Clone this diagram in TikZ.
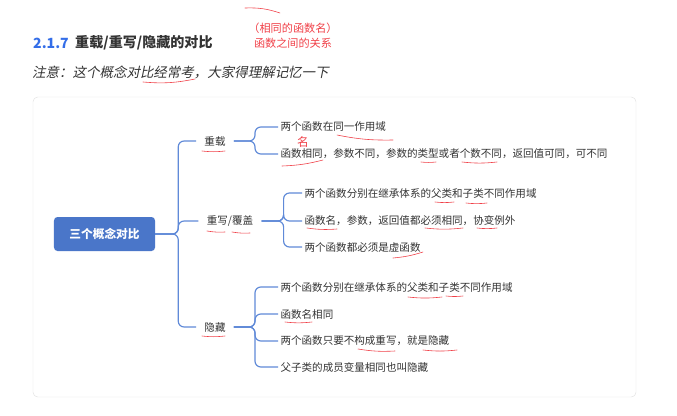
\documentclass[tikz,border=0pt]{standalone}
\usepackage{fontspec}
\setmainfont{Noto Sans CJK SC}
\newfontfamily\noteslant[FakeSlant=0.2]{Noto Sans CJK SC}
\definecolor{rootblue}{RGB}{74,118,201}
\definecolor{lineblue}{RGB}{96,138,216}
\definecolor{headblue}{RGB}{52,110,232}
\definecolor{txtgray}{RGB}{51,51,51}
\definecolor{markred}{RGB}{240,64,72}
\definecolor{panelgray}{RGB}{225,225,225}

\begin{document}
\begin{tikzpicture}[
        x=0.03cm, y=-0.03cm,
        every node/.style={font=\fontsize{9}{11}\selectfont, text=txtgray},
        root/.style={rectangle, rounded corners=3pt, fill=rootblue, text=white, minimum width=3.03cm, minimum height=1.02cm, font=\fontsize{10}{12}\selectfont\bfseries},
        topic/.style={inner xsep=7pt, inner ysep=2pt},
        leaf/.style={anchor=west, inner sep=2pt},
        link/.style={draw=lineblue, line width=1pt, rounded corners=5pt},
        scribble/.style={draw=markred, line width=0.5pt, line cap=round}
    ]
        \useasboundingbox (0,0) rectangle (677,415);

        % Heading and note
        \node[anchor=west, inner sep=0pt, font=\fontsize{12}{14}\selectfont\bfseries, text=headblue] (secno) at (33,43) {2.1.7};
        \node[anchor=west, inner sep=0pt, font=\fontsize{12}{14}\selectfont\bfseries] (title) at (75,43) {重载/重写/隐藏的对比};
        \node[align=center, text=markred, font=\fontsize{9.5}{13}\selectfont] (remark) at (293,36) {（相同的函数名）\\函数之间的关系};
        \node[anchor=west, inner sep=0pt, font=\fontsize{11.5}{13}\selectfont\noteslant] (note) at (32,72) {注意：这个概念对比经常考，大家得理解记忆一下};

        % Panel
        \draw[draw=panelgray, fill=white, rounded corners=4pt] (33,97) rectangle (636,397);

        % Mind map
        \node[root] (rootnode) at (104.5,234) {三个概念对比};

        \node[topic] (overload) at (215,141) {重载};
        \node[topic] (override) at (230,221) {重写/覆盖};
        \node[topic] (hiding) at (215,327) {隐藏};

        \node[leaf] (ol1) at (278,127) {两个函数在同一作用域};
        \node[leaf] (ol2) at (278,154) {函数相同，参数不同，参数的类型或者个数不同，返回值可同，可不同};
        \node[text=markred, font=\fontsize{10}{12}\selectfont] (mark) at (303,142) {名};

        \node[leaf] (ov1) at (302,193) {两个函数分别在继承体系的父类和子类不同作用域};
        \node[leaf] (ov2) at (302,221) {函数名，参数，返回值都必须相同，协变例外};
        \node[leaf] (ov3) at (302,247) {两个函数都必须是虚函数};

        \node[leaf] (hd1) at (278,287) {两个函数分别在继承体系的父类和子类不同作用域};
        \node[leaf] (hd2) at (278,314) {函数名相同};
        \node[leaf] (hd3) at (278,341) {两个函数只要不构成重写，就是隐藏};
        \node[leaf] (hd4) at (278,367) {父子类的成员变量相同也叫隐藏};

        % Connectors
        \foreach \t in {overload, override, hiding}
            \draw[link] (rootnode.east) -- ++(23,0) |- (\t.west);
        \foreach \l in {ol1, ol2}
            \draw[link] (overload.east) -- ++(21,0) |- (\l.west);
        \foreach \l in {ov1, ov2, ov3}
            \draw[link] (override.east) -- ++(22,0) |- (\l.west);
        \foreach \l in {hd1, hd2, hd3, hd4}
            \draw[link] (hiding.east) -- ++(21,0) |- (\l.west);

        % Red pen underlines
        \draw[scribble] (245,8) to[bend left=10] (280,13);
        \draw[scribble] (143,82) to[bend right=8] (195,79);
        \foreach \xa/\xb/\ya/\yb in {202/225/151/151, 207/225/231/232, 232/250/232/233, 202/225/336/336,
                                     282/323/166/160, 337/393/135/140, 421/436/162/162, 462/497/162/162,
                                     435/454/202/202, 466/487/203/203, 307/337/228/229, 425/463/228/228,
                                     477/497/228/228, 393/423/258/252, 408/442/297/297, 446/463/296/296,
                                     285/312/322/322, 358/395/349/351, 423/457/350/350}
            \draw[scribble] (\xa,\ya) to[bend right=6] (\xb,\yb);

    \end{tikzpicture}
\end{document}
